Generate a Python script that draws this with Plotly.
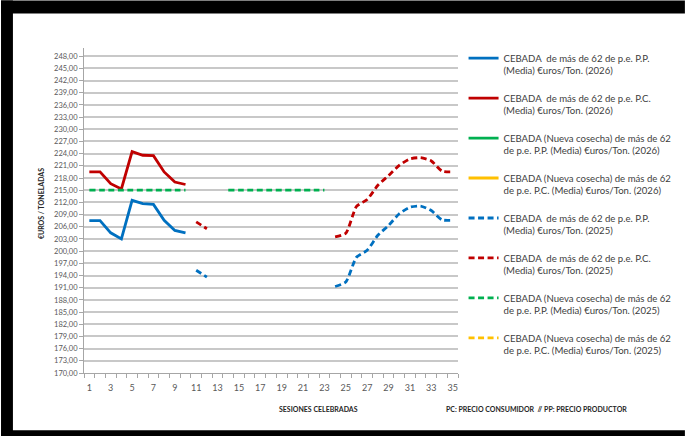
import plotly.graph_objects as go

# ---------------- data ----------------
sessions = list(range(1, 36))

def pad(vals):
    return vals + [None] * (35 - len(vals))

pp_2026 = pad([207.5, 207.5, 204.5, 203.0, 212.5, 211.7, 211.5, 207.6, 205.1, 204.5])
pc_2026 = pad([219.5, 219.5, 216.6, 215.3, 224.5, 223.6, 223.5, 219.5, 217.0, 216.4])
nc_pp_2026 = pad([])
nc_pc_2026 = pad([])

pp_2025 = pad([None] * 10 + [195.3, 193.6] + [None] * 11 +
              [191.3, 192.4, 198.5, 200.2, 203.9, 206.3, 209.2, 210.8, 211.1, 210.0, 207.7, 207.6])
pc_2025 = pad([None] * 10 + [207.2, 205.5] + [None] * 11 +
              [203.5, 204.4, 211.0, 212.7, 216.2, 218.6, 221.1, 222.7, 223.0, 222.2, 219.7, 219.5])
nc_pp_2025 = pad([215.0] * 10 + [None] * 3 + [215.0] * 10)
nc_pc_2025 = pad([])

names = [
    "CEBADA  de más de 62 de p.e. P.P.<br>(Media) €uros/Ton. (2026)",
    "CEBADA  de más de 62 de p.e. P.C.<br>(Media) €uros/Ton. (2026)",
    "CEBADA (Nueva cosecha) de más de 62<br>de p.e. P.P. (Media) €uros/Ton. (2026)",
    "CEBADA (Nueva cosecha) de más de 62<br>de p.e. P.C. (Media) €uros/Ton. (2026)",
    "CEBADA  de más de 62 de p.e. P.P.<br>(Media) €uros/Ton. (2025)",
    "CEBADA  de más de 62 de p.e. P.C.<br>(Media) €uros/Ton. (2025)",
    "CEBADA (Nueva cosecha) de más de 62<br>de p.e. P.P. (Media) €uros/Ton. (2025)",
    "CEBADA (Nueva cosecha) de más de 62<br>de p.e. P.C. (Media) €uros/Ton. (2025)",
]
series = [pp_2026, pc_2026, nc_pp_2026, nc_pc_2026, pp_2025, pc_2025, nc_pp_2025, nc_pc_2025]
colors = ["#0070C0", "#C00000", "#00B050", "#FFC000"] * 2
dashed = [False] * 4 + [True] * 4

x_ticks = list(range(1, 36, 2))
y_min, y_max, y_step = 170, 250, 3

# ---------------- layout geometry ----------------
W, H = 689, 436
L, R, T, B = 83.6, 460.4, 47.6, 372.7
PW, PH = R - L, B - T

def px(x):
    return (x - L) / PW

def py(y):
    return (B - y) / PH

fig = go.Figure()
for i, (nm, ys, col, d) in enumerate(zip(names, series, colors, dashed)):
    fig.add_trace(go.Scatter(
        x=sessions, y=ys, name=nm, mode="lines",
        legendgroup=f"g{i}",
        line=dict(color=col, width=2.8,
                  dash="6px,3.5px" if d else "solid",
                  shape="spline" if d else "linear", smoothing=0.6),
        connectgaps=False,
    ))

shapes = [
    dict(type="rect", xref="paper", yref="paper", x0=px(0), x1=px(12), y0=py(436), y1=py(0),
         fillcolor="black", line_width=0, layer="below"),
    dict(type="rect", xref="paper", yref="paper", x0=px(0), x1=px(W), y0=py(13), y1=py(0),
         fillcolor="black", line_width=0, layer="below"),
    dict(type="rect", xref="paper", yref="paper", x0=px(0), x1=px(W), y0=py(436), y1=py(430),
         fillcolor="black", line_width=0, layer="below"),
]

annotations = [
    dict(text="<b>€UROS / TONELADAS</b>", xref="paper", yref="paper", x=px(41), y=py(203),
         showarrow=False, textangle=-90, font=dict(size=7, color="#262626", family="Lato"),
         xanchor="center", yanchor="middle"),
    dict(text="<b>SESIONES CELEBRADAS</b>", xref="paper", yref="paper", x=px(320), y=py(409),
         showarrow=False, font=dict(size=7, color="#262626", family="Lato"),
         xanchor="center", yanchor="middle"),
    dict(text="<b>PC: PRECIO CONSUMIDOR  // PP: PRECIO PRODUCTOR</b>", xref="paper", yref="paper",
         x=px(446), y=py(409), showarrow=False, font=dict(size=7, color="#262626", family="Lato"),
         xanchor="left", yanchor="middle"),
]

fig.update_layout(
    width=W, height=H,
    margin=dict(l=L, r=W - R, t=T, b=H - B, pad=0),
    paper_bgcolor="white", plot_bgcolor="white",
    separators=",.",
    font=dict(family="Lato", color="#404040"),
    shapes=shapes, annotations=annotations,
    showlegend=True,
    legend=dict(x=px(466), y=py(45), xanchor="left", yanchor="top",
                font=dict(size=9.6, color="#404040", family="Lato"),
                itemwidth=30, tracegroupgap=12, bgcolor="rgba(0,0,0,0)",
                traceorder="grouped", valign="top", maxheight=430),
    xaxis=dict(range=[0.5, 35.5], tickmode="array", tickvals=x_ticks,
               ticktext=[str(v) for v in x_ticks], showgrid=False, zeroline=False,
               showline=True, linecolor="#a6a6a6", linewidth=1, ticks="", ticklabelstandoff=6,
               tickfont=dict(size=9, color="#595959"),
               minor=dict(tick0=0.5, dtick=1, ticks="outside", ticklen=4, tickcolor="#a6a6a6",
                          showgrid=False)),
    yaxis=dict(range=[y_min, y_max], tick0=y_min, dtick=y_step, tickformat=".2f",
               showgrid=True, gridcolor="#c8c8c8", gridwidth=1.5, zeroline=False,
               showline=True, linecolor="#a6a6a6", linewidth=1,
               ticks="outside", ticklen=4, tickcolor="#a6a6a6",
               tickfont=dict(size=7.5, color="#595959")),
)

fig.write_html("out.html", config={"displayModeBar": False},
               post_script="document.body.style.margin='0';document.body.style.overflow='hidden';")
